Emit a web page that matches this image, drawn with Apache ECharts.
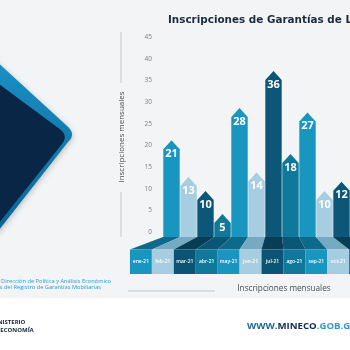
<!DOCTYPE html>
<html>
<head>
<meta charset="utf-8">
<script src="https://cdn.jsdelivr.net/npm/echarts@6/dist/echarts.min.js"></script>
<style>
  html, body { margin: 0; padding: 0; background: #fff; }
  #chart { width: 350px; height: 350px; }
</style>
</head>
<body>
<div id="chart"></div>
<script>
// datos
const meses = ['ene-21', 'feb-21', 'mar-21', 'abr-21', 'may-21', 'jun-21', 'jul-21', 'ago-21', 'sep-21', 'oct-21', 'nov-21'];
const inscripciones = [21, 13, 10, 5, 28, 14, 36, 18, 27, 10, 12];
const ticksY = [0, 5, 10, 15, 20, 25, 30, 35, 40, 45];

// colores que se repiten cada 4 meses
const tonos = [
  { barra: '#1896bf', piso: '#0e6a8b', celda: '#1896bf' },
  { barra: '#a7cde1', piso: '#76a9c3', celda: '#a7cde1' },
  { barra: '#0c5777', piso: '#073e55', celda: '#0b5473' },
  { barra: '#0f789b', piso: '#0a5674', celda: '#0f789b' },
];

// perspectiva de la franja de etiquetas
const VP = 277;
const K = 1.29;

const myChart = echarts.init(document.getElementById('chart'));

// esquina redondeada (decoracion izquierda)
const curva = (p0, c, p1, n) => {
  const pts = [];
  for (let k = 1; k < n; k++) {
    const t = k / n;
    pts.push([
      (1 - t) * (1 - t) * p0[0] + 2 * (1 - t) * t * c[0] + t * t * p1[0],
      (1 - t) * (1 - t) * p0[1] + 2 * (1 - t) * t * c[1] + t * t * p1[1],
    ]);
  }
  return pts;
};
const exterior = [[-5, 60], [66, 125], ...curva([66, 125], [77, 134], [68, 142], 8), [68, 142], [-5, 235]];
const interior = [[-5, 81], [61, 130], ...curva([61, 130], [68, 136], [62, 144], 8), [62, 144], [-5, 228]];

const renderBarra = (params, api) => {
  const i = api.value(0);
  const v = api.value(1);
  const base = api.coord([i, 0]);
  const tope = api.coord([i, v]);
  const bw = api.size([1, 0])[0];
  const half = bw / 2 - 0.3;
  const x = base[0];
  const y0 = base[1];
  const yt = tope[1];
  const tono = tonos[i % 4];
  const cx = VP + K * (x - VP);
  const ch = (K * bw) / 2;
  const yc = y0 + 12.5;
  return {
    type: 'group',
    children: [
      {
        type: 'polygon',
        shape: { points: [[x - half, y0], [x - half, yt + 9], [x, yt], [x + half, yt + 9], [x + half, y0]] },
        style: { fill: tono.barra },
      },
      {
        type: 'polygon',
        shape: { points: [[x - bw / 2, y0], [x + bw / 2, y0], [cx + ch, yc], [cx - ch, yc]] },
        style: { fill: tono.piso },
      },
      {
        type: 'rect',
        shape: { x: cx - ch, y: yc, width: 2 * ch, height: 24.5 },
        style: { fill: tono.celda },
      },
      {
        type: 'text',
        style: {
          text: meses[i], x: cx, y: yc + 12.5, align: 'center', verticalAlign: 'middle',
          fill: '#ffffff', font: '600 5px "Open Sans"',
        },
      },
      {
        type: 'text',
        style: {
          text: String(v), x: x, y: yt + 13.5, align: 'center', verticalAlign: 'middle',
          fill: '#ffffff', font: 'bold 11px "Open Sans"',
        },
      },
    ],
  };
};

const options = {
  backgroundColor: '#f3f4f6',
  animation: false,
  textStyle: { fontFamily: 'Open Sans' },
  grid: [
    // eje con etiquetas
    { left: 156, top: 37, width: 150, bottom: 118 },
    // barras
    { left: 163, top: 29.5, width: 190.3, bottom: 113 },
  ],
  xAxis: [
    { gridIndex: 0, type: 'value', show: false },
    { gridIndex: 1, type: 'category', data: meses, show: false },
  ],
  yAxis: [
    {
      gridIndex: 0,
      type: 'value',
      min: ticksY[0],
      max: ticksY[ticksY.length - 1],
      interval: ticksY[1] - ticksY[0],
      axisLine: { show: false },
      axisTick: { show: false },
      splitLine: { show: false },
      axisLabel: { color: '#7a7d82', fontSize: 6.5, margin: 4 },
    },
    { gridIndex: 1, type: 'value', min: 0, max: 45, show: false },
  ],
  series: [
    {
      type: 'custom',
      xAxisIndex: 1,
      yAxisIndex: 1,
      clip: false,
      data: inscripciones.map((v, i) => [i, v]),
      renderItem: renderBarra,
    },
  ],
  graphic: [
    { type: 'rect', z: -10, shape: { x: 0, y: 298, width: 350, height: 52 }, style: { fill: '#ffffff' } },
    {
      type: 'polygon', z: -5,
      shape: { points: exterior },
      style: {
        fill: new echarts.graphic.LinearGradient(0, 0, 0, 1, [
          { offset: 0, color: '#1a8fc4' },
          { offset: 1, color: '#0b6596' },
        ]),
        shadowBlur: 6, shadowColor: 'rgba(0,0,0,0.25)', shadowOffsetY: 2,
      },
    },
    {
      type: 'polygon', z: -4,
      shape: { points: interior },
      style: { fill: '#0a2647' },
    },
    {
      type: 'text', x: 168, y: 20,
      style: { text: 'Inscripciones de Garantías de Leasing', fill: '#1b2a3d', font: 'bold 10.4px "DejaVu Sans"', verticalAlign: 'middle' },
    },
    {
      type: 'text', x: 122, y: 137, rotation: Math.PI / 2,
      style: { text: 'Inscripciones mensuales', fill: '#4a4d52', font: '8px "Open Sans"', align: 'center', verticalAlign: 'middle' },
    },
    { type: 'line', shape: { x1: 121, y1: 32, x2: 121, y2: 83 }, style: { stroke: '#c6c8cc', lineWidth: 1 } },
    { type: 'line', shape: { x1: 121, y1: 192, x2: 121, y2: 237 }, style: { stroke: '#c6c8cc', lineWidth: 1 } },
    {
      type: 'text', x: 284, y: 289,
      style: { text: 'Inscripciones mensuales', fill: '#4a4d52', font: '8.2px "Open Sans"', align: 'center', verticalAlign: 'middle' },
    },
    { type: 'line', shape: { x1: 128, y1: 291, x2: 215, y2: 291 }, style: { stroke: '#d3d5d9', lineWidth: 1.5 } },
    {
      type: 'text', x: 111, y: 281,
      style: { text: 'Fuente: Dirección de Política y Análisis Económico', fill: '#2a9ccd', font: '5.7px "Open Sans"', align: 'right', verticalAlign: 'middle' },
    },
    {
      type: 'text', x: 101, y: 287.5,
      style: { text: 'con datos del Registro de Garantías Mobiliarias', fill: '#2a9ccd', font: '5.7px "Open Sans"', align: 'right', verticalAlign: 'middle' },
    },
    {
      type: 'text', x: -10, y: 322,
      style: { text: 'MINISTERIO', fill: '#14243a', font: 'bold 6px "Open Sans"', verticalAlign: 'middle' },
    },
    {
      type: 'text', x: -9, y: 330,
      style: { text: 'DE ECONOMÍA', fill: '#14243a', font: 'bold 6px "Open Sans"', verticalAlign: 'middle' },
    },
    {
      type: 'text', x: 247, y: 326,
      style: {
        text: '{a|WWW.}{b|MINECO}{c|.GOB.GT}',
        verticalAlign: 'middle',
        rich: {
          a: { fill: '#1d6a9c', font: 'bold 9.6px "Open Sans"' },
          b: { fill: '#13294a', font: 'bold 9.6px "Open Sans"' },
          c: { fill: '#2a9ccd', font: 'bold 9.6px "Open Sans"' },
        },
      },
    },
  ],
};

myChart.setOption(options);
</script>
</body>
</html>
